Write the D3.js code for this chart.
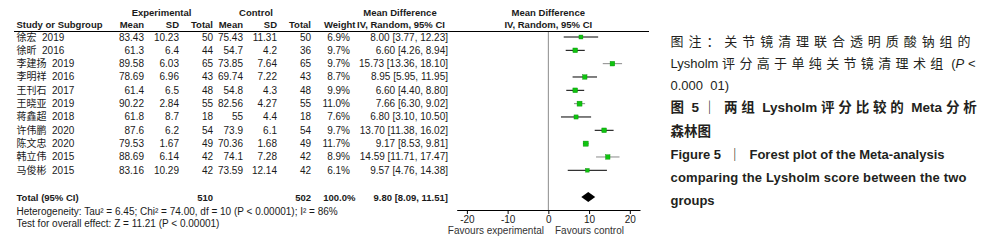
<!DOCTYPE html>
<html>
<head>
<meta charset="utf-8">
<script src="https://cdn.jsdelivr.net/npm/d3@7"></script>
<style>
    body { margin: 0; background: #fff; }
    text { font-family: 'Liberation Sans', Arial, 'Noto Sans CJK SC', sans-serif; white-space: pre; }
</style>
</head>
<body>
<div id="chart"></div>
<script>
// data
let studies = ['徐宏  2019', '徐昕  2016', '李建扬  2019', '李明祥  2016', '王刊石  2017', '王晓亚  2019',
    '蒋鑫超  2018', '许伟鹏  2020', '陈文忠  2020', '韩立伟  2015', '马俊彬  2015']
let expMean = ['83.43', '61.3', '89.58', '78.69', '61.4', '90.22', '61.8', '87.6', '79.53', '88.69', '83.16']
let expSD = ['10.23', '6.4', '6.03', '6.96', '6.5', '2.84', '8.7', '6.2', '1.67', '6.14', '10.29']
let expN = [50, 44, 65, 43, 48, 55, 18, 54, 49, 42, 42]
let ctlMean = ['75.43', '54.7', '73.85', '69.74', '54.8', '82.56', '55', '73.9', '70.36', '74.1', '73.59']
let ctlSD = ['11.31', '4.2', '7.64', '7.22', '4.3', '4.27', '4.4', '6.1', '1.68', '7.28', '12.14']
let ctlN = [50, 36, 65, 43, 48, 55, 18, 54, 49, 42, 42]
let weights = [6.9, 9.7, 9.7, 8.7, 9.9, 11.0, 7.6, 9.7, 11.7, 8.9, 6.1]
let md = [8.00, 6.60, 15.73, 8.95, 6.60, 7.66, 6.80, 13.70, 9.17, 14.59, 9.57]
let ciLow = [3.77, 4.26, 13.36, 5.95, 4.40, 6.30, 3.10, 11.38, 8.53, 11.71, 4.76]
let ciHigh = [12.23, 8.94, 18.10, 11.95, 8.80, 9.02, 10.50, 16.02, 9.81, 17.47, 14.38]

let total = { expN: 510, ctlN: 502, weight: '100.0%', md: 9.80, lo: 8.09, hi: 11.51 }
let heterogeneity = 'Heterogeneity: Tau² = 6.45; Chi² = 74.00, df = 10 (P < 0.00001); I² = 86%'
let overallTest = 'Test for overall effect: Z = 11.21 (P < 0.00001)'
let axisTicks = [-20, -10, 0, 10, 20]

let width = 1004, height = 245

let svg = d3.select('#chart')
.append('svg')
.attr('width', width)
.attr('height', height)

let y = d3.scaleLinear().domain([0, 10]).range([37, 170.3])
let x = d3.scaleLinear().domain([-22.5, 22.5]).range([456.7, 640])
let fmt = d3.format('.2f')

let ink = '#1a1a1a'

function txt(g, px, py, s, anchor, bold) {
    return g.append('text')
    .attr('x', px)
    .attr('y', py)
    .attr('dy', '0.35em')
    .attr('text-anchor', anchor || 'start')
    .attr('font-size', bold ? 9.5 : 10)
    .attr('font-weight', bold ? 'bold' : 'normal')
    .attr('fill', ink)
    .text(s)
}

let table = svg.append('g').attr('class', 'table')

// headers
txt(table, 161.5, 13, 'Experimental', 'middle', true)
txt(table, 256, 13, 'Control', 'middle', true)
txt(table, 400, 13, 'Mean Difference', 'middle', true)
txt(table, 548.3, 13, 'Mean Difference', 'middle', true)
txt(table, 16.5, 25, 'Study or Subgroup', 'start', true)
txt(table, 144, 25, 'Mean', 'end', true)
txt(table, 179, 25, 'SD', 'end', true)
txt(table, 213, 25, 'Total', 'end', true)
txt(table, 243, 25, 'Mean', 'end', true)
txt(table, 277, 25, 'SD', 'end', true)
txt(table, 311, 25, 'Total', 'end', true)
txt(table, 355.5, 25, 'Weight', 'end', true)
txt(table, 401, 25, 'IV, Random, 95% CI', 'middle', true)
txt(table, 548.3, 25, 'IV, Random, 95% CI', 'middle', true)

svg.append('line')
.attr('x1', 14).attr('x2', 649)
.attr('y1', 31.5).attr('y2', 31.5)
.attr('stroke', '#000')
.attr('stroke-width', 1)

// study rows
let cols = [
    { x: 16.5, anchor: 'start', val: i => studies[i] },
    { x: 144, anchor: 'end', val: i => expMean[i] },
    { x: 179, anchor: 'end', val: i => expSD[i] },
    { x: 213, anchor: 'end', val: i => expN[i] },
    { x: 243, anchor: 'end', val: i => ctlMean[i] },
    { x: 277, anchor: 'end', val: i => ctlSD[i] },
    { x: 311, anchor: 'end', val: i => ctlN[i] },
    { x: 350, anchor: 'end', val: i => weights[i].toFixed(1) + '%' },
    { x: 448, anchor: 'end', val: i => `${fmt(md[i])} [${fmt(ciLow[i])}, ${fmt(ciHigh[i])}]` }
]

studies.forEach((s, i) => {
    cols.forEach(c => {
        txt(table, c.x, y(i), c.val(i), c.anchor, false)
    })
})

// total row
let yTot = 198
txt(table, 16.5, yTot, 'Total (95% CI)', 'start', true)
txt(table, 213, yTot, total.expN, 'end', true)
txt(table, 311, yTot, total.ctlN, 'end', true)
txt(table, 355.5, yTot, total.weight, 'end', true)
txt(table, 448, yTot, `${fmt(total.md)} [${fmt(total.lo)}, ${fmt(total.hi)}]`, 'end', true)
txt(table, 16.5, 211, heterogeneity, 'start', false)
txt(table, 16.5, 223.5, overallTest, 'start', false)

// forest plot
let plot = svg.append('g').attr('class', 'plot')

let axisY = 210

plot.append('line')
.attr('x1', x(0)).attr('x2', x(0))
.attr('y1', 32).attr('y2', axisY)
.attr('stroke', '#8c8c8c')

// a few of the whiskers render lighter in the original
let lightRows = new Set([2, 5, 9])

plot.selectAll('.ci')
.data(d3.range(studies.length))
.join('line')
.attr('class', 'ci')
.attr('x1', i => x(ciLow[i]))
.attr('x2', i => x(ciHigh[i]))
.attr('y1', i => y(i))
.attr('y2', i => y(i))
.attr('stroke', i => lightRows.has(i) ? '#8a8a8a' : '#000')
.attr('stroke-width', 1)

let side = d3.scaleSqrt().domain([0, 12]).range([0, 5.2])

plot.selectAll('.sq')
.data(d3.range(studies.length))
.join('rect')
.attr('class', 'sq')
.attr('x', i => x(md[i]) - side(weights[i]) / 2)
.attr('y', i => y(i) - side(weights[i]) / 2)
.attr('width', i => side(weights[i]))
.attr('height', i => side(weights[i]))
.attr('fill', '#0fc40f')
.attr('stroke', '#0a8a0a')
.attr('stroke-width', 0.4)

let dy = 5
plot.append('path')
.attr('d', `M${x(total.lo)},${yTot - 1} L${x(total.md)},${yTot - 1 - dy} L${x(total.hi)},${yTot - 1} L${x(total.md)},${yTot - 1 + dy} Z`)
.attr('fill', '#000')

let axis = d3.axisBottom(x)
.tickValues(axisTicks)
.tickSize(4)
.tickSizeOuter(0)
.tickFormat(d => d < 0 ? '-' + Math.abs(d) : d)

let ax = plot.append('g')
.attr('transform', `translate(0, ${axisY})`)
.call(axis)

ax.select('.domain').attr('stroke', '#000')
ax.selectAll('.tick line').attr('stroke', '#000')
ax.selectAll('.tick text')
.attr('font-size', 10)
.attr('font-family', "'Liberation Sans', Arial, sans-serif")
.attr('fill', ink)
.attr('y', 5.5)

txt(plot, 544, 230.5, 'Favours experimental', 'end', false).attr('fill', '#333')
txt(plot, 555, 230.5, 'Favours control', 'start', false).attr('fill', '#333')

// caption on the right
let cap = svg.append('g').attr('class', 'caption')
.attr('fill', '#231f20')
.style('font-family', "Lato, 'Noto Sans CJK SC', sans-serif")

let capX = 670.5
let captionLines = [
    { y: 41, len: 305, size: 13, bold: false, parts: [['图注：关节镜清理联合透明质酸钠组的', false]] },
    { y: 63.5, len: 305, size: 13, bold: false, parts: [['Lysholm 评分高于单纯关节镜清理术组 (', false], ['P', true], [' <', false]] },
    { y: 85.5, len: 0, size: 13, bold: false, parts: [['0.000  01)', false]] },
    { y: 107, len: 310, size: 13.5, bold: true, parts: [['图 5 ｜ 两组 Lysholm 评分比较的 Meta 分析', false]] },
    { y: 131, len: 0, size: 13.5, bold: true, parts: [['森林图', false]] },
    { y: 154, len: 274, size: 13, bold: true, parts: [['Figure 5  ｜  Forest plot of the Meta-analysis', false]] },
    { y: 177, len: 296, size: 13, bold: true, parts: [['comparing the Lysholm score between the two', false]] },
    { y: 200.5, len: 0, size: 13, bold: true, parts: [['groups', false]] }
]

let isCJK = c => /[\u3000-\u9fff\uff00-\uffef]/.test(c)

captionLines.forEach(l => {
    let t = cap.append('text')
    .attr('x', capX)
    .attr('y', l.y)
    .attr('dy', '0.35em')
    .attr('font-size', l.size)
    .attr('font-weight', l.bold ? 'bold' : 'normal')

    // split into runs so only the CJK glyphs get spread out (justified lines)
    let spans = []
    l.parts.forEach(p => {
        let runs = p[0].match(/[\u3000-\u9fff\uff00-\uffef]+|[^\u3000-\u9fff\uff00-\uffef]+/g)
        runs.forEach(r => {
            let ts = t.append('tspan')
            .attr('font-style', p[1] ? 'italic' : 'normal')
            .text(r)
            spans.push({ ts, cjk: isCJK(r[0]), n: r.length })
        })
    })

    if (!l.len) return
    let natural = t.node().getComputedTextLength()
    let extra = l.len - natural
    let nCJK = d3.sum(spans.filter(s => s.cjk), s => s.n)
    if (nCJK > 0) {
        spans.filter(s => s.cjk).forEach(s => s.ts.attr('letter-spacing', extra / nCJK))
    } else {
        t.attr('textLength', l.len).attr('lengthAdjust', 'spacing')
    }
})
</script>
</body>
</html>
